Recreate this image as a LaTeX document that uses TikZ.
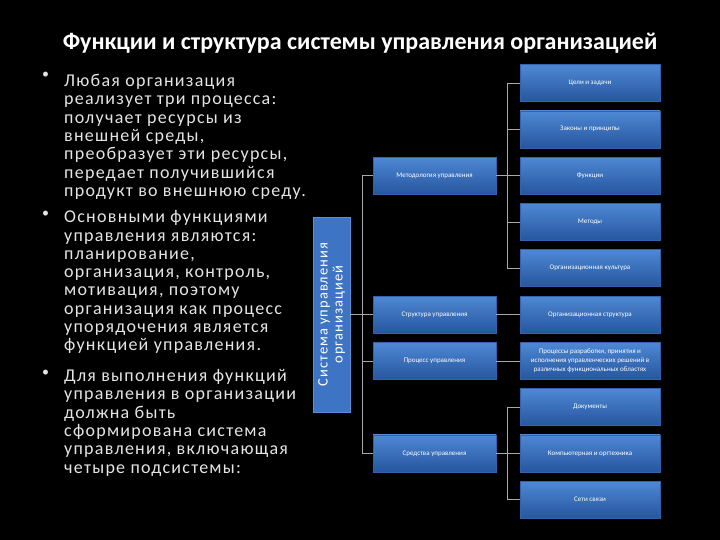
\documentclass[tikz,border=0pt]{standalone}
\usepackage{fontspec}
\setmainfont{Carlito}
\newfontfamily\spacedfont[LetterSpace=7]{Carlito}
\usetikzlibrary{positioning}
\definecolor{boxtop}{RGB}{78,136,212}
\definecolor{boxbottom}{RGB}{38,86,158}
\definecolor{boxedge}{RGB}{52,98,172}
\definecolor{sidefill}{RGB}{62,116,196}
\definecolor{sideedge}{RGB}{92,142,214}
\definecolor{bodygray}{RGB}{228,228,228}
\definecolor{linkgray}{RGB}{170,170,170}
\begin{document}
\begin{tikzpicture}[x=1pt, y=-1pt,
  boxbase/.style={draw=boxedge, line width=0.5pt, top color=boxtop, bottom color=boxbottom,
    text=white, align=center, inner sep=1pt, minimum height=37pt, font=\fontsize{7}{9}\selectfont},
  midbox/.style={boxbase, minimum width=123pt},
  subbox/.style={boxbase, minimum width=140pt},
  sidebox/.style={draw=sideedge, fill=sidefill, text=white, align=center, rotate=90,
    minimum width=195pt, minimum height=37pt, inner sep=0pt, font=\spacedfont\fontsize{14.5}{15}\selectfont},
  link/.style={draw=linkgray, line width=0.6pt},
  bodytext/.style={anchor=base west, inner sep=0pt, text=bodygray, font=\spacedfont\fontsize{18}{18.3}\selectfont},
  dotmark/.style={inner sep=0pt, text=bodygray, font=\fontsize{14}{14}\selectfont}]
  \fill[black] (0,0) rectangle (720,540);
  \node[anchor=base, text=white, font=\fontsize{24}{28}\selectfont\bfseries] (title) at (360,50)
    {Функции и структура системы управления организацией};

  % left text
  \node[dotmark] (dot1) at (45.5,75.5) {•};
  \node[bodytext] (para1) at (64,86.6) {\parbox[t]{270pt}{\raggedright
    Любая организация\\реализует три процесса:\\получает ресурсы из\\внешней среды,\\
    преобразует эти ресурсы,\\передает получившийся\\продукт во внешнюю среду.}};
  \node[dotmark] (dot2) at (45.5,214) {•};
  \node[bodytext] (para2) at (64,222.8) {\parbox[t]{270pt}{\raggedright
    Основными функциями\\управления являются:\\планирование,\\организация, контроль,\\
    мотивация, поэтому\\организация как процесс\\упорядочения является\\функцией управления.}};
  \node[dotmark] (dot3) at (45.5,373) {•};
  \node[bodytext] (para3) at (64,381.5) {\parbox[t]{270pt}{\raggedright
    Для выполнения функций\\управления в организации\\должна быть\\сформирована система\\
    управления, включающая\\четыре подсистемы:}};

  % system and its four subsystems
  \node[sidebox] (system) at (331.5,314.5) {Система управления\\организацией};
  \node[midbox] (method)  at (434.5,175.6) {Методология управления};
  \node[midbox] (struct)  at (434.5,314.5) {Структура управления};
  \node[midbox] (process) at (434.5,360.8) {Процесс управления};
  \node[midbox] (means)   at (434.5,453.4) {Средства управления};

  % elements
  \node[subbox] (goals)     at (590,83.0)  {Цели и задачи};
  \node[subbox] (laws)      at (590,129.3) {Законы и принципы};
  \node[subbox] (funcs)     at (590,175.6) {Функции};
  \node[subbox] (methods)   at (590,221.9) {Методы};
  \node[subbox] (culture)   at (590,268.2) {Организационная культура};
  \node[subbox] (orgstruct) at (590,314.5) {Организационная структура};
  \node[subbox] (decisions) at (590,360.8) {Процессы разработки, принятия и\\исполнения управленческих решений в\\различных функциональных областях};
  \node[subbox] (docs)      at (590,407.1) {Документы};
  \node[subbox] (tech)      at (590,453.4) {Компьютерная и оргтехника};
  \node[subbox] (nets)      at (590,499.7) {Сети связи};

  \coordinate (busmid) at (362,0);
  \coordinate (busright) at (507,0);

  % connectors
  \draw[link] (system.south) -- (struct.west);
  \draw[link] (method.west) -- (method.west -| busmid) -- (means.west -| busmid) -- (means.west);
  \draw[link] (process.west) -- (process.west -| busmid);
  \draw[link] (goals.west) -- (goals.west -| busright) -- (culture.west -| busright) -- (culture.west);
  \draw[link] (laws.west) -- (laws.west -| busright);
  \draw[link] (methods.west) -- (methods.west -| busright);
  \draw[link] (method.east) -- (funcs.west);
  \draw[link] (struct.east) -- (orgstruct.west);
  \draw[link] (process.east) -- (decisions.west);
  \draw[link] (docs.west) -- (docs.west -| busright) -- (nets.west -| busright) -- (nets.west);
  \draw[link] (means.east) -- (tech.west);
\end{tikzpicture}
\end{document}
